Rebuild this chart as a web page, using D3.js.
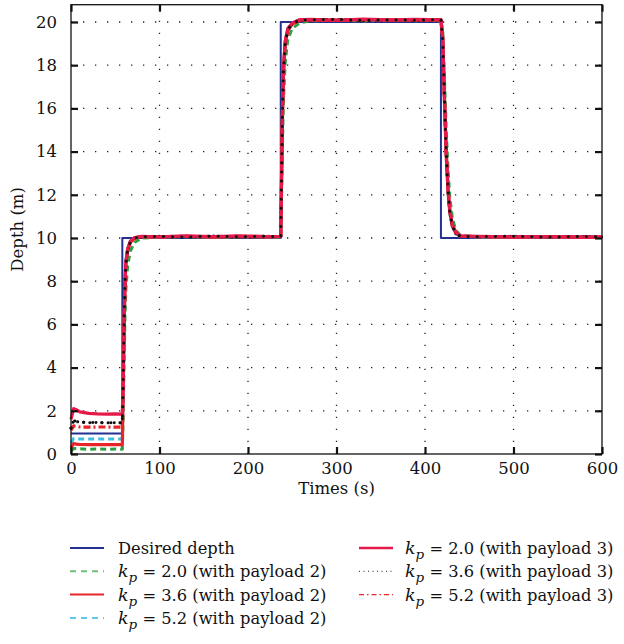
<!DOCTYPE html>
<html>
<head>
<meta charset="utf-8">
<script src="https://cdn.jsdelivr.net/npm/d3@7"></script>
<style>
  body { margin: 0; background: #fff; }
  svg text { font-family: "DejaVu Serif", "Liberation Serif", serif; fill: #111; }
</style>
</head>
<body>
<div id="chart"></div>
<script>
// values
var times = [0, 3, 6, 10, 20, 30, 40, 50, 58, 59, 60, 61, 62, 64, 67, 72, 80,
  100, 130, 160, 190, 220, 237, 238, 239, 240, 242, 245, 250, 258, 270,
  300, 330, 360, 390, 418, 420, 422, 424, 426, 428, 431, 435, 440,
  460, 500, 540, 580, 600];

var desiredT = [0, 58, 58, 237, 237, 418, 418, 600];
var desiredD = [0.95, 0.95, 10, 10, 20, 20, 10, 10];

var kp20p2 = [0.15, 0.25, 0.25, 0.24, 0.22, 0.23, 0.22, 0.23, 0.22, 1.8, 4.2, 6.3, 7.6, 8.7, 9.4, 9.8, 10.0,
  10.03, 10.06, 10.02, 10.05, 10.04, 10.03, 12.0, 14.4, 16.3, 18.1, 19.2, 19.7, 19.95, 20.05,
  20.08, 20.05, 20.09, 20.06, 20.08, 19.6, 17.4, 15.0, 13.2, 11.9, 10.9, 10.35, 10.12,
  10.05, 10.03, 10.05, 10.02, 10.03];
var kp36p2 = [0.3, 0.48, 0.46, 0.44, 0.43, 0.44, 0.43, 0.44, 0.43, 3.2, 5.9, 7.8, 8.8, 9.4, 9.8, 10.0, 10.06,
  10.05, 10.08, 10.04, 10.07, 10.05, 10.06, 13.0, 15.8, 17.6, 19.0, 19.6, 19.9, 20.08, 20.1,
  20.07, 20.11, 20.08, 20.1, 20.09, 19.3, 16.3, 13.8, 12.2, 11.2, 10.55, 10.22, 10.08,
  10.06, 10.04, 10.06, 10.03, 10.05];
var kp52p2 = [0.5, 0.72, 0.7, 0.7, 0.7, 0.69, 0.7, 0.7, 0.7, 3.4, 6.1, 8.0, 8.9, 9.5, 9.85, 10.02, 10.06,
  10.06, 10.08, 10.05, 10.07, 10.06, 10.06, 13.2, 16.0, 17.8, 19.1, 19.7, 19.95, 20.1, 20.1,
  20.08, 20.1, 20.09, 20.11, 20.1, 19.3, 16.2, 13.7, 12.1, 11.1, 10.5, 10.2, 10.08,
  10.05, 10.05, 10.04, 10.05, 10.04];
var kp20p3 = [1.6, 2.1, 2.05, 1.95, 1.88, 1.86, 1.85, 1.86, 1.85, 3.6, 6.2, 8.0, 8.9, 9.5, 9.85, 10.02, 10.08,
  10.05, 10.1, 10.06, 10.1, 10.07, 10.08, 13.2, 16.0, 17.8, 19.1, 19.7, 19.95, 20.1, 20.12,
  20.08, 20.13, 20.1, 20.12, 20.1, 19.3, 16.5, 14.0, 12.3, 11.3, 10.6, 10.25, 10.1,
  10.08, 10.05, 10.06, 10.04, 10.05];
var kp36p3 = [1.2, 1.55, 1.5, 1.48, 1.45, 1.46, 1.44, 1.45, 1.45, 3.4, 6.0, 7.9, 8.8, 9.45, 9.8, 10.0, 10.05,
  10.08, 10.04, 10.09, 10.05, 10.08, 10.06, 13.1, 15.9, 17.7, 19.0, 19.65, 19.92, 20.08, 20.1,
  20.12, 20.07, 20.1, 20.08, 20.11, 19.2, 16.4, 13.9, 12.2, 11.2, 10.55, 10.2, 10.08,
  10.06, 10.08, 10.04, 10.07, 10.05];
var kp52p3 = [1.1, 1.3, 1.28, 1.25, 1.24, 1.25, 1.25, 1.24, 1.25, 3.3, 6.0, 7.9, 8.85, 9.45, 9.82, 10.01, 10.06,
  10.06, 10.07, 10.05, 10.08, 10.06, 10.07, 13.1, 15.9, 17.7, 19.05, 19.65, 19.93, 20.09, 20.11,
  20.09, 20.11, 20.1, 20.1, 20.1, 19.25, 16.4, 13.9, 12.25, 11.25, 10.55, 10.22, 10.09,
  10.06, 10.05, 10.05, 10.05, 10.04];

var xTicks = [0, 100, 200, 300, 400, 500, 600];
var yTicks = [0, 2, 4, 6, 8, 10, 12, 14, 16, 18, 20];

var legendLeft = [
  {name: "Desired depth", kp: null},
  {name: " = 2.0 (with payload 2)", kp: true},
  {name: " = 3.6 (with payload 2)", kp: true},
  {name: " = 5.2 (with payload 2)", kp: true}
];
var legendRight = [
  {name: " = 2.0 (with payload 3)", kp: true},
  {name: " = 3.6 (with payload 3)", kp: true},
  {name: " = 5.2 (with payload 3)", kp: true}
];

// series styles, same order as the legend
var styles = [
  {color: "#22318f", dash: null, w: 2, cap: "butt"},
  {color: "#2ea043", dash: "6,4", w: 3, cap: "butt"},
  {color: "#e8262a", dash: null, w: 3.2, cap: "butt"},
  {color: "#3fbde6", dash: "6,4", w: 3, cap: "butt"},
  {color: "#e6194b", dash: null, w: 3.2, cap: "butt"},
  {color: "#111111", dash: "0.1,6", w: 3, cap: "round"},
  {color: "#e8262a", dash: "7,3,2,3", w: 3.2, cap: "butt"}
];
var legendStyles = [
  {color: "#22318f", dash: null, w: 2, cap: "butt"},
  {color: "#6cc07a", dash: "6,5", w: 2, cap: "butt"},
  {color: "#e8262a", dash: null, w: 2, cap: "butt"},
  {color: "#5cc8ea", dash: "6,5", w: 2, cap: "butt"},
  {color: "#e6194b", dash: null, w: 2.5, cap: "butt"},
  {color: "#222", dash: "1,3.5", w: 1, cap: "butt"},
  {color: "#e8262a", dash: "5,3,1.5,3", w: 1.2, cap: "butt"}
];

var W = 624, H = 644;
var margin = {top: 4.7, right: 22, bottom: 190, left: 71};
var serif = "'DejaVu Serif', 'Liberation Serif', serif";

var svg = d3.select("#chart").append("svg")
  .attr("width", W).attr("height", H)
  .attr("font-family", serif);

var x = d3.scaleLinear().domain([0, 600]).range([margin.left, W - margin.right]);
var y = d3.scaleLinear().domain([0, 20.8]).range([H - margin.bottom, margin.top]);

var x0 = x.range()[0], x1 = x.range()[1];
var y0 = y.range()[0], y1 = y.range()[1];

// dotted grid
var grid = svg.append("g").attr("stroke", "#222").attr("stroke-width", 1.3)
  .attr("stroke-dasharray", "1.3,10.7");
grid.selectAll("line.gx").data(xTicks.slice(1, -1)).join("line")
  .attr("x1", d => x(d)).attr("x2", d => x(d)).attr("y1", y0).attr("y2", y1);
grid.selectAll("line.gy").data(yTicks.slice(1)).join("line")
  .attr("y1", d => y(d)).attr("y2", d => y(d)).attr("x1", x0).attr("x2", x1);

var plot = svg.append("g");

function drawLine(xs, ys, st) {
  var line = d3.line().x(d => x(d[0])).y(d => y(d[1]));
  plot.append("path")
    .datum(xs.map((t, i) => [t, ys[i]]))
    .attr("d", line)
    .attr("fill", "none")
    .attr("stroke", st.color)
    .attr("stroke-width", st.w)
    .attr("stroke-linecap", st.cap)
    .attr("stroke-linejoin", "round")
    .attr("stroke-dasharray", st.dash);
}

drawLine(desiredT, desiredD, styles[0]);
drawLine(times, kp20p2, styles[1]);
drawLine(times, kp52p2, styles[3]);
drawLine(times, kp36p2, styles[2]);
drawLine(times, kp52p3, styles[6]);
drawLine(times, kp36p3, styles[5]);
drawLine(times, kp20p3, styles[4]);
// black dots again sparsely over the red so both show, as in the picture
drawLine(times, kp36p3, {color: "#111111", dash: "0.1,9", w: 3, cap: "round"});

// axes: ticks inward, box all around
var tickLen = 7;
svg.append("g").attr("transform", "translate(0," + y0 + ")")
  .call(d3.axisBottom(x).tickValues(xTicks).tickSizeInner(-tickLen).tickSizeOuter(0).tickPadding(8))
  .call(g => g.select(".domain").remove());
svg.append("g").attr("transform", "translate(0," + y1 + ")")
  .call(d3.axisTop(x).tickValues(xTicks).tickSizeInner(-tickLen).tickSizeOuter(0).tickFormat(""))
  .call(g => g.select(".domain").remove());
svg.append("g").attr("transform", "translate(" + x0 + ",0)")
  .call(d3.axisLeft(y).tickValues(yTicks).tickSizeInner(-tickLen).tickSizeOuter(0).tickPadding(14))
  .call(g => g.select(".domain").remove());
svg.append("g").attr("transform", "translate(" + x1 + ",0)")
  .call(d3.axisRight(y).tickValues(yTicks).tickSizeInner(-tickLen).tickSizeOuter(0).tickFormat(""))
  .call(g => g.select(".domain").remove());

svg.selectAll("g").attr("font-family", serif);
svg.selectAll(".tick line").attr("stroke", "#111").attr("stroke-width", 2.2);
svg.selectAll(".tick text")
  .attr("font-size", 16.5).attr("fill", "#111");

svg.append("rect")
  .attr("x", x0).attr("y", y1).attr("width", x1 - x0).attr("height", y0 - y1)
  .attr("fill", "none").attr("stroke", "#111").attr("stroke-width", 1.3);

// axis titles
svg.append("text").attr("x", (x0 + x1) / 2).attr("y", 494)
  .attr("text-anchor", "middle").attr("font-size", 16.5).text("Times (s)");
svg.append("text")
  .attr("transform", "translate(23," + ((y0 + y1) / 2) + ") rotate(-90)")
  .attr("text-anchor", "middle").attr("font-size", 16.5).text("Depth (m)");

// legend
function legendColumn(items, sts, lx, tx) {
  var rowH = 23.3, top = 548;
  items.forEach(function(it, i) {
    var st = sts[i], ly = top + i * rowH;
    svg.append("line")
      .attr("x1", lx).attr("x2", lx + 34).attr("y1", ly).attr("y2", ly)
      .attr("stroke", st.color).attr("stroke-width", st.w)
      .attr("stroke-dasharray", st.dash);
    var t = svg.append("text").attr("x", tx).attr("y", ly + 6).attr("font-size", 16.3);
    if (it.kp) {
      t.append("tspan").attr("font-style", "italic").attr("font-size", 17.5).text("k");
      t.append("tspan").attr("font-style", "italic").attr("font-size", 13.5).attr("dy", 5).text("p");
      t.append("tspan").attr("dy", -5).text(it.name);
    } else {
      t.text(it.name);
    }
  });
}
legendColumn(legendLeft, legendStyles.slice(0, 4), 70, 118);
legendColumn(legendRight, legendStyles.slice(4), 359, 405);
</script>
</body>
</html>
